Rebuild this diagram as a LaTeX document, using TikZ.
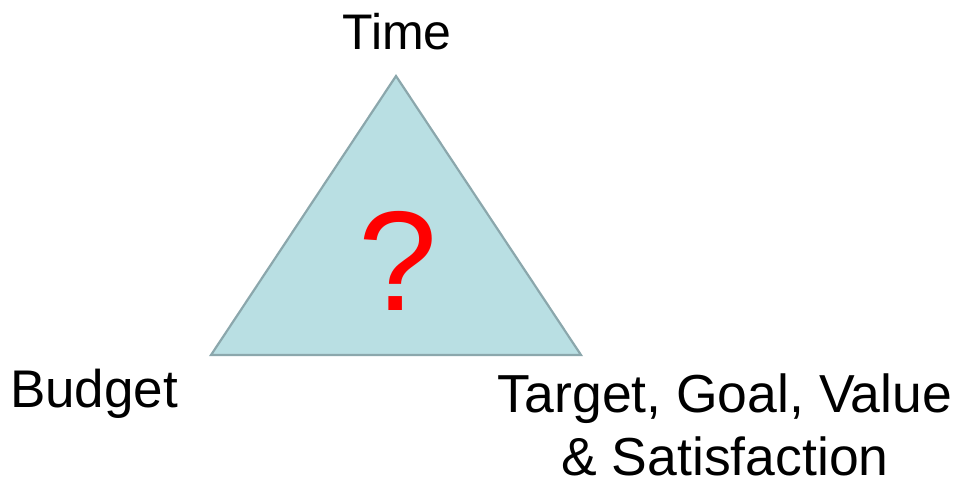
\documentclass[tikz,border=0pt]{standalone}
\usepackage{fontspec}
\setmainfont{Liberation Sans}
\definecolor{trifill}{HTML}{B9DFE3}
\definecolor{triedge}{HTML}{8BA7AC}
\begin{document}
\begin{tikzpicture}[x=1pt,y=-1pt,
  lbl/.style={font=\fontsize{50}{63}\selectfont, inner sep=0pt, anchor=base}]
\useasboundingbox (0,0) rectangle (957,480);
\coordinate (top) at (396,76);
\coordinate (bl) at (211,355);
\coordinate (br) at (581,355);
\draw[fill=trifill, draw=triedge, line width=2.2pt, line join=miter] (top) -- (br) -- (bl) -- cycle;
\node[font=\fontsize{142}{142}\selectfont, text=red, inner sep=0pt, anchor=base] (q) at (398,310) {?};
\node[lbl] (time) at (397,49) {Time};
\node[lbl, font=\fontsize{53}{63}\selectfont] (budget) at (94,407) {Budget};
\node[lbl, align=center, text depth=0pt, font=\fontsize{53.5}{63}\selectfont] (target) at (725,475) {Target, Goal, Value\\\& Satisfaction};
\end{tikzpicture}
\end{document}
